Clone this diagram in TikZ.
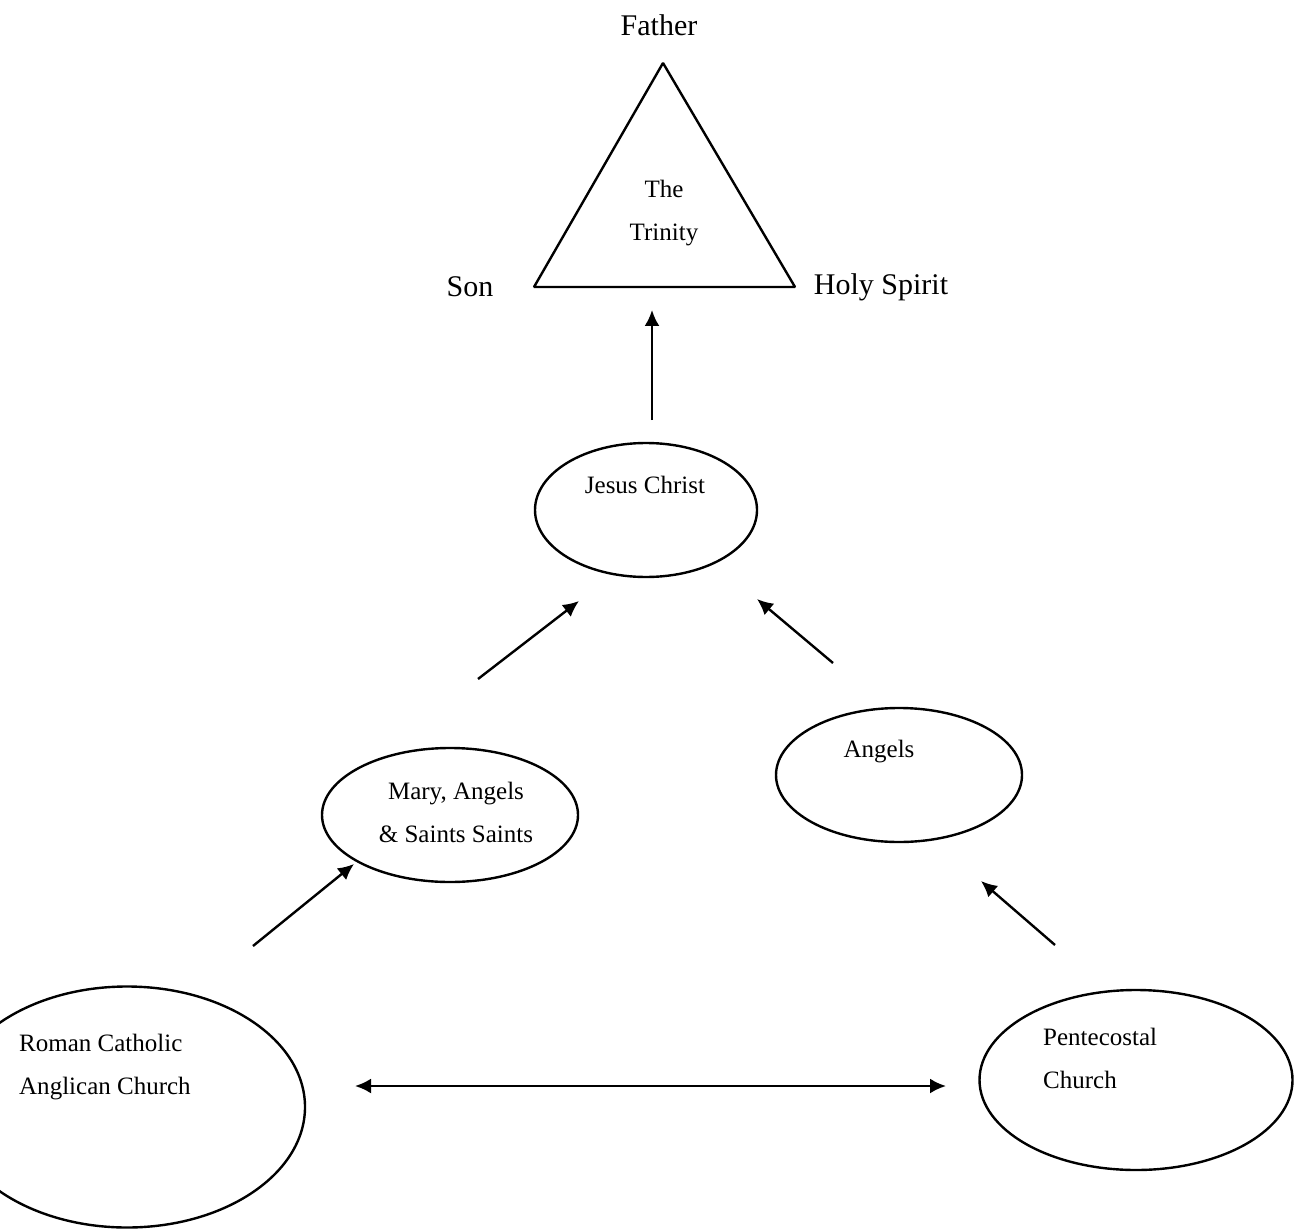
\documentclass[tikz,border=0pt]{standalone}
\usepackage{fontspec}
\setmainfont{Liberation Serif}
\usetikzlibrary{shapes.geometric,arrows.meta}
\tikzset{
  group/.style={draw,ellipse,inner sep=0pt},
  person/.style={font=\fontsize{15}{18}\selectfont,inner sep=0pt},
  caption/.style={font=\fontsize{12.5}{21.5}\selectfont,inner sep=0pt},
}
\begin{document}
\begin{tikzpicture}[>={Latex[length=8pt,width=7.5pt]},line join=bevel,x=0.5pt,y=-0.5pt]
  \pgfsetlinewidth{1.2pt}
  \useasboundingbox (0,0) rectangle (1304,1229);
  \clip (0,0) rectangle (1304,1229);
%%
  % Node: trinity
  \coordinate (apex) at (663,63);
  \coordinate (sonc) at (534,287);
  \coordinate (spiritc) at (795,287);
  \draw (apex) -- (sonc) -- (spiritc) -- cycle;
  \node[caption,align=center] (trinity) at (664,213) {The\\Trinity};
  \node[person] (father) at (659,25) {Father};
  \node[person] (son) at (470,287) {Son};
  \node[person] (spirit) at (881,287) {Holy Spirit};
  % Node: jesus
  \node[group,minimum width=111pt,minimum height=67pt] (jesus) at (646,510) {};
  \node[caption] (jesustext) at (645,485) {Jesus Christ};
  % Node: mary
  \node[group,minimum width=128pt,minimum height=67pt] (mary) at (450,815) {};
  \node[caption,align=center] (marytext) at (456,812) {Mary, Angels\\\& Saints Saints};
  % Node: angels
  \node[group,minimum width=123pt,minimum height=67pt] (angels) at (899,775) {};
  \node[caption] (angelstext) at (879,752) {Angels};
  % Node: catholic
  \node[group,minimum width=178pt,minimum height=120.5pt] (catholic) at (127,1107) {};
  \node[caption,align=left,anchor=west] (catholictext) at (18,1067) {Roman Catholic\\Anglican Church};
  % Node: pentecostal
  \node[group,minimum width=156.5pt,minimum height=90pt] (pentecostal) at (1136,1080) {};
  \node[caption,align=left,anchor=west] (pentecostaltext) at (1042,1058) {Pentecostal\\Church};
%%
  % Edge: jesus -> trinity
  \coordinate (e1s) at (652,420);
  \coordinate (e1e) at (652,310);
  \draw [->] (e1s) -- (e1e);
  % Edge: mary -> jesus
  \coordinate (e2s) at (478,679);
  \coordinate (e2e) at (579,601);
  \draw [->] (e2s) -- (e2e);
  % Edge: angels -> jesus
  \coordinate (e3s) at (833,663);
  \coordinate (e3e) at (757,599);
  \draw [->] (e3s) -- (e3e);
  % Edge: catholic -> mary
  \coordinate (e4s) at (253,946);
  \coordinate (e4e) at (354,864);
  \draw [->] (e4s) -- (e4e);
  % Edge: pentecostal -> angels
  \coordinate (e5s) at (1055,945);
  \coordinate (e5e) at (981,881);
  \draw [->] (e5s) -- (e5e);
  % Edge: catholic <-> pentecostal
  \coordinate (e6s) at (355,1086);
  \coordinate (e6e) at (946,1086);
  \draw [<->] (e6s) -- (e6e);
%
\end{tikzpicture}
\end{document}
